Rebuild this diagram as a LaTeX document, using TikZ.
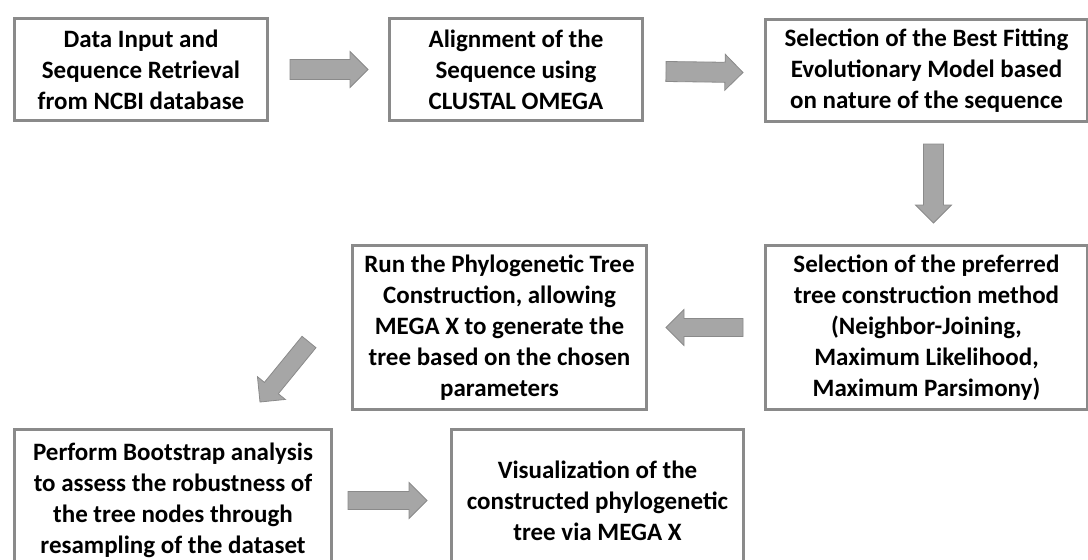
\documentclass[tikz,border=0pt]{standalone}
\usepackage{fontspec}
\setmainfont{Carlito}
\usepackage{xcolor}
\definecolor{boxgray}{HTML}{8A8A8A}
\definecolor{arrgray}{HTML}{A6A6A6}
\usepackage{tikz}
\usetikzlibrary{positioning,calc}
\tikzset{
  stepbox/.style={rectangle, draw=boxgray, line width=3pt, fill=white, align=center,
                  anchor=north west, inner sep=2pt, font=\fontsize{25}{31}\selectfont\bfseries},
  bigarr/.style ={draw=boxgray, fill=arrgray, line width=0.8pt, line join=miter},
}
% block arrow from tail #2 to tip #3, shaft half width #1
\newcommand{\blockarrow}[3][10pt]{%
  \coordinate (hb) at ($(#3)!18pt!(#2)$);
  \filldraw[bigarr] ($(#2)!#1!90:(#3)$) -- ($(hb)!#1!-90:(#2)$) -- ($(hb)!18pt!-90:(#2)$)
    -- (#3) -- ($(hb)!18pt!90:(#2)$) -- ($(hb)!#1!90:(#2)$) -- ($(#2)!#1!-90:(#3)$) -- cycle;
}

\begin{document}
\begin{tikzpicture}[x=1pt, y=-1pt]
  \useasboundingbox (0,0) rectangle (1088,560);
  % row 1
  \node[stepbox, minimum width=253pt, minimum height=102pt] (b1) at (13,17)
    {Data Input and\\Sequence Retrieval\\from NCBI database};
  \node[stepbox, minimum width=253pt, minimum height=102pt] (b2) at (388,17)
    {Alignment of the\\Sequence using\\CLUSTAL OMEGA};
  \node[stepbox, minimum width=322pt, minimum height=102pt] (b3) at (764,18)
    {Selection of the Best Fitting\\Evolutionary Model based\\on nature of the sequence};
  % row 2
  \node[stepbox, minimum width=322pt, minimum height=164pt] (b4) at (764,244)
    {Selection of the preferred\\tree construction method\\(Neighbor-Joining,\\Maximum Likelihood,\\Maximum Parsimony)};
  \node[stepbox, minimum width=294pt, minimum height=164pt] (b5) at (351,244)
    {Run the Phylogenetic Tree\\Construction, allowing\\MEGA X to generate the\\tree based on the chosen\\parameters};
  % row 3
  \node[stepbox, minimum width=317pt, minimum height=142pt] (b6) at (13,428)
    {Perform Bootstrap analysis\\to assess the robustness of\\the tree nodes through\\resampling of the dataset};
  \node[stepbox, minimum width=292pt, minimum height=142pt] (b7) at (450,428)
    {Visualization of the\\constructed phylogenetic\\tree via MEGA X};
  % arrows
  \coordinate (a1t) at ($(b1.east)+(21,0)$);
  \coordinate (a1h) at ($(b2.west)+(-20,0)$);
  \coordinate (a2t) at ($(b2.east)+(22,2)$);
  \coordinate (a2h) at ($(b3.west)+(-21,2)$);
  \coordinate (a3t) at ($(b3.south)+(7,21)$);
  \coordinate (a3h) at ($(b4.north)+(7,-21)$);
  \coordinate (a4t) at ($(b4.west)+(-21,0)$);
  \coordinate (a4h) at ($(b5.east)+(18,0)$);
  \coordinate (a5t) at ($(b5.south west)+(-42,-69)$);
  \coordinate (a5h) at ($(b6.north east)+(-73,-26)$);
  \coordinate (a6t) at ($(b6.east)+(15,0)$);
  \coordinate (a6h) at ($(b7.west)+(-23,0)$);
  \blockarrow{a1t}{a1h}
  \blockarrow{a2t}{a2h}
  \blockarrow{a3t}{a3h}
  \blockarrow[9pt]{a4t}{a4h}
  \blockarrow[9pt]{a5t}{a5h}
  \blockarrow[9pt]{a6t}{a6h}
\end{tikzpicture}
\end{document}
